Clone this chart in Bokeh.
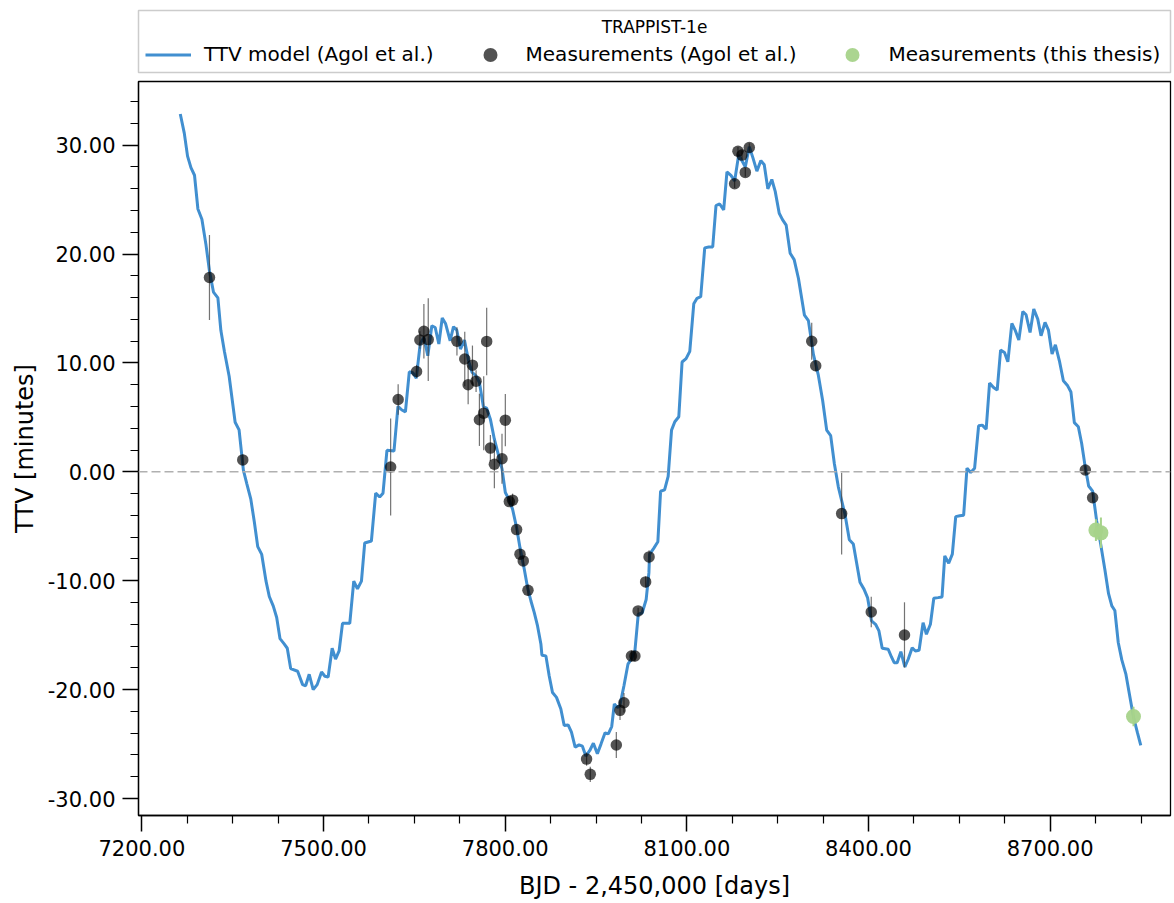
import numpy as np
from bokeh.plotting import figure
from bokeh.layouts import column
from bokeh.models import (Range1d, FixedTicker, NumeralTickFormatter, Span,
                          Legend, LegendItem, Label)
from bokeh.embed import file_html
from bokeh.resources import INLINE

# ---------------- data ----------------
model_bjd = [7263.4, 7270.0, 7275.4, 7281.0, 7286.9, 7292.5, 7299.1, 7305.7, 7311.6, 7318.2,
             7325.5, 7330.4, 7336.3, 7344.1, 7354.0, 7360.5, 7367.6, 7373.2, 7379.8, 7385.7,
             7391.3, 7397.9, 7405.0, 7410.4, 7417.0, 7422.6, 7428.1, 7434.6, 7440.1, 7445.7,
             7457.2, 7465.4, 7470.4, 7476.3, 7482.9, 7489.5, 7496.7, 7502.2, 7507.6, 7514.2,
             7519.8, 7525.7, 7531.3, 7543.3, 7549.9, 7556.0, 7562.6, 7568.0, 7579.0, 7586.1,
             7592.7, 7598.2, 7604.7, 7616.3, 7622.9, 7629.4, 7635.2, 7641.6, 7647.5, 7653.1,
             7659.7, 7665.7, 7672.2, 7678.8, 7684.4, 7690.4, 7696.0, 7701.4, 7709.1, 7714.6,
             7720.0, 7726.1, 7732.7, 7739.8, 7745.4, 7751.9, 7757.4, 7764.0, 7769.4, 7775.5,
             7782.1, 7789.2, 7794.8, 7800.2, 7806.8, 7812.2, 7818.8, 7824.4, 7831.5, 7836.9,
             7842.5, 7848.0, 7853.4, 7859.0, 7860.6, 7867.2, 7872.6, 7878.1, 7884.7, 7891.9,
             7897.4, 7903.9, 7909.4, 7915.5, 7922.0, 7927.5, 7933.1, 7939.7, 7945.6, 7952.2,
             7958.3, 7964.9, 7970.3, 7975.9, 7980.2, 7985.1, 7989.1, 7996.1, 8002.7, 8008.2,
             8014.2, 8019.7, 8026.3, 8032.8, 8037.3, 8038.4, 8045.5, 8052.1, 8056.6, 8063.2,
             8069.1, 8074.7, 8080.1, 8086.7, 8092.1, 8098.7, 8104.8, 8111.4, 8116.8, 8122.9,
             8129.5, 8136.1, 8142.7, 8148.1, 8154.2, 8160.8, 8166.2, 8172.8, 8178.9, 8185.5,
             8190.9, 8196.5, 8203.1, 8209.0, 8215.6, 8222.2, 8227.8, 8233.7, 8240.3, 8245.9,
             8252.5, 8257.9, 8264.0, 8270.6, 8277.2, 8284.3, 8294.2, 8300.7, 8309.0, 8317.2,
             8324.3, 8330.9, 8337.5, 8343.6, 8350.2, 8361.2, 8368.3, 8374.9, 8380.3, 8385.9,
             8392.5, 8398.4, 8405.0, 8411.6, 8417.2, 8422.6, 8432.5, 8437.9, 8442.4, 8447.3,
             8453.4, 8460.0, 8465.5, 8472.1, 8477.4, 8483.5, 8490.1, 8495.6, 8502.2, 8507.8,
             8514.8, 8521.4, 8525.9, 8532.4, 8538.4, 8544.0, 8550.6, 8557.1, 8562.6, 8568.7,
             8575.2, 8581.8, 8587.8, 8594.3, 8599.9, 8606.5, 8612.5, 8618.1, 8624.6, 8630.1,
             8636.7, 8642.1, 8648.2, 8654.8, 8660.2, 8666.8, 8672.9, 8679.5, 8684.9, 8691.5,
             8697.1, 8703.1, 8708.6, 8715.2, 8721.8, 8728.9, 8734.3, 8739.9, 8746.5, 8752.0,
             8757.4, 8763.5, 8770.1, 8776.7, 8783.7, 8790.3, 8796.4, 8801.8, 8806.8, 8812.4,
             8818.3, 8824.9, 8830.5, 8837.6, 8844.2, 8849.6]
model_ttv = [32.87, 31.11, 29.0, 27.94, 27.24, 24.14, 23.2, 20.91, 18.45, 16.51,
             15.98, 13.0, 11.06, 8.78, 4.55, 3.85, 0.16, -1.08, -2.48, -4.6,
             -6.87, -7.58, -10.04, -11.45, -12.33, -13.38, -15.32, -15.78, -16.2, -18.07,
             -18.31, -19.54, -19.65, -18.59, -20.0, -19.54, -18.38, -18.77, -18.84, -16.2,
             -17.19, -16.45, -13.91, -13.91, -10.04, -10.75, -10.04, -6.53, -6.35, -1.96,
             -2.31, -1.96, 1.98, 1.91, 6.01, 5.68, 5.51, 9.19, 9.1, 8.59,
             11.79, 12.34, 10.66, 13.42, 13.26, 11.74, 14.13, 13.63, 12.04, 13.33,
             13.02, 11.28, 12.1, 10.11, 9.13, 8.82, 8.21, 5.97, 5.85, 4.84,
             3.0, 1.47, 0.25, -1.9, -2.6, -3.43, -5.12, -6.96, -8.94, -10.63,
             -11.86, -12.93, -14.15, -15.84, -16.84, -16.9, -18.73, -20.26, -20.71, -21.78,
             -23.3, -23.24, -23.91, -25.28, -25.07, -25.19, -26.1, -25.59, -24.92, -25.89,
             -24.98, -23.97, -24.06, -23.39, -21.32, -21.63, -21.53, -19.64, -17.66, -17.2,
             -16.44, -13.09, -12.94, -11.72, -9.28, -7.58, -7.0, -6.42, -1.78, -1.66,
             -0.42, 3.83, 4.6, 5.06, 10.09, 10.4, 11.07, 15.43, 15.94, 16.09,
             20.57, 20.65, 20.65, 24.45, 24.6, 24.06, 27.54, 27.23, 26.72, 29.09,
             28.58, 28.0, 29.86, 28.86, 27.62, 28.58, 28.2, 25.99, 26.85, 25.76,
             23.75, 23.17, 22.66, 20.07, 19.49, 17.76, 14.39, 13.89, 10.79, 8.86,
             6.53, 3.83, 3.33, 0.74, -1.4, -3.91, -6.23, -6.62, -8.35, -10.14,
             -10.77, -11.55, -13.69, -14.0, -14.61, -16.2, -16.29, -17.0, -17.53, -17.53,
             -16.51, -17.92, -17.21, -16.15, -16.45, -16.39, -13.85, -14.92, -14.0, -11.61,
             -11.55, -11.49, -7.72, -8.39, -7.56, -4.11, -4.04, -3.98, 0.34, -0.06,
             0.34, 4.23, 4.29, 3.92, 8.15, 7.75, 7.51, 11.18, 10.96, 10.11,
             13.63, 13.02, 12.1, 14.73, 14.43, 12.8, 14.95, 14.03, 12.5, 13.72,
             13.02, 10.82, 11.67, 10.2, 8.36, 7.9, 7.33, 4.52, 4.14, 2.6,
             0.62, -1.3, -1.77, -4.48, -6.73, -8.96, -11.19, -12.31, -12.73, -15.67,
             -17.27, -18.55, -20.3, -22.53, -23.98, -25.11]

agol_bjd = [7311.6, 7366.6, 7610.8, 7623.2, 7653.6, 7659.1, 7665.7, 7672.9, 7720.3, 7733.2,
            7738.8, 7745.9, 7751.9, 7757.4, 7764.5, 7769.4, 7775.5, 7782.1, 7794.7, 7800.2,
            7806.8, 7812.2, 7818.8, 7824.4, 7829.8, 7837.6, 7934.4, 7940.5, 7983.5, 7989.6,
            7996.1, 8008.5, 8014.2, 8019.5, 8031.9, 8037.6, 8178.9, 8184.4, 8191.0, 8196.5,
            8203.1, 8306.2, 8312.8, 8355.6, 8404.5, 8459.4, 8758.0, 8770.1]
agol_ttv = [17.85, 1.1, 0.45, 6.64, 9.22, 12.11, 12.91, 12.15, 11.99, 10.36,
            8.0, 9.8, 8.33, 4.78, 5.39, 11.98, 2.18, 0.7, 1.2, 4.75,
            -2.73, -2.6, -5.3, -7.56, -8.18, -10.87, -26.38, -27.78, -25.09, -21.9,
            -21.21, -16.91, -16.91, -12.77, -10.11, -7.81, 26.46, 29.44, 29.09, 27.5,
            29.79, 11.99, 9.74, -3.83, -12.87, -14.98, 0.17, -2.38]
agol_err = [3.9, 0.5, 4.45, 1.4, 0.6, 0.8, 2.5, 3.8, 1.3, 2.5,
            1.8, 1.8, 1.0, 2.4, 3.4, 3.1, 1.2, 2.2, 2.3, 2.4,
            0.4, 0.6, 0.4, 0.4, 0.4, 0.5, 0.6, 0.7, 1.2, 0.9,
            0.9, 0.5, 0.5, 0.3, 0.5, 0.6, 0.4, 0.4, 0.4, 0.4,
            0.4, 1.7, 0.5, 3.75, 1.4, 3.0, 0.4, 0.4]

thesis_bjd = [8775.5, 8783.8, 8837.6]
thesis_ttv = [-5.35, -5.6, -22.47]
thesis_err = [1.0, 1.4, 0.9]

x_major_ticks = [7200, 7500, 7800, 8100, 8400, 8700]
x_minor_ticks = [7275, 7350, 7425, 7575, 7650, 7725, 7875, 7950, 8025,
                 8175, 8250, 8325, 8475, 8550, 8625, 8775, 8850]
y_major_ticks = [-30, -20, -10, 0, 10, 20, 30]
y_minor_ticks = [-28, -26, -24, -22, -18, -16, -14, -12, -8, -6, -4, -2,
                 2, 4, 6, 8, 12, 14, 16, 18, 22, 24, 26, 28, 32, 34]

legend_title = "TRAPPIST-1e"
label_model = "TTV model (Agol et al.)"
label_agol = "Measurements (Agol et al.)"
label_thesis = "Measurements (this thesis)"

FONT = "DejaVu Sans"
LINE_BLUE = "#418fd0"
AGOL_GREY = "black"
BAR_GREY = "#444444"
THESIS_GREEN = "#a6d38a"

# ---------------- main figure ----------------
p = figure(width=1174, height=823,
           x_range=Range1d(7194.4, 8898.7), y_range=Range1d(-31.56, 35.85),
           output_backend="svg", toolbar_location=None,
           min_border_left=138, min_border_right=1,
           min_border_top=1, min_border_bottom=88)
p.xgrid.visible = False
p.ygrid.visible = False
p.outline_line_color = "black"
p.outline_line_width = 1.3
p.outline_line_alpha = 1.0
p.background_fill_color = "white"
p.border_fill_color = "white"

p.xaxis.ticker = FixedTicker(ticks=x_major_ticks, minor_ticks=x_minor_ticks)
p.yaxis.ticker = FixedTicker(ticks=y_major_ticks, minor_ticks=y_minor_ticks)
p.xaxis.formatter = NumeralTickFormatter(format="0.00")
p.yaxis.formatter = NumeralTickFormatter(format="0.00")
p.xaxis.axis_label = "BJD - 2,450,000 [days]"
p.yaxis.axis_label = "TTV [minutes]"

for ax in (p.xaxis, p.yaxis):
    ax.axis_line_color = "black"
    ax.axis_line_width = 1.3
    ax.major_tick_in = 0
    ax.major_tick_out = 16
    ax.minor_tick_in = 0
    ax.minor_tick_out = 8
    ax.major_tick_line_width = 1.5
    ax.minor_tick_line_width = 1.2
    ax.major_tick_line_color = "black"
    ax.minor_tick_line_color = "black"
    ax.major_label_text_font = FONT
    ax.major_label_text_font_size = "21px"
    ax.major_label_text_color = "black"
    ax.axis_label_text_font = FONT
    ax.axis_label_text_font_size = "24px"
    ax.axis_label_text_font_style = "normal"
    ax.axis_label_text_color = "black"
p.xaxis.major_label_standoff = 8
p.yaxis.major_label_standoff = 7
p.xaxis.axis_label_standoff = 13
p.yaxis.axis_label_standoff = 6

# zero line
p.add_layout(Span(location=0, dimension="width", line_color="#b0b0b0",
                  line_dash="9 4", line_width=1.5))

# TTV model
p.line(model_bjd, model_ttv, line_color=LINE_BLUE, line_width=3)

# Agol measurements
agol_lo = [v - e for v, e in zip(agol_ttv, agol_err)]
agol_hi = [v + e for v, e in zip(agol_ttv, agol_err)]
p.segment(x0=agol_bjd, y0=agol_lo, x1=agol_bjd, y1=agol_hi,
          line_color=BAR_GREY, line_alpha=0.75, line_width=1.2)
p.scatter(agol_bjd, agol_ttv, size=11.5, fill_color=AGOL_GREY,
          fill_alpha=0.68, line_color=None)

# this thesis
th_lo = [v - e for v, e in zip(thesis_ttv, thesis_err)]
th_hi = [v + e for v, e in zip(thesis_ttv, thesis_err)]
p.segment(x0=thesis_bjd, y0=th_lo, x1=thesis_bjd, y1=th_hi,
          line_color=THESIS_GREEN, line_width=2)
p.scatter(thesis_bjd, thesis_ttv, size=15, fill_color=THESIS_GREEN,
          fill_alpha=0.95, line_color=None)

# ---------------- legend strip (its frame is the legend box) ----------------
top = figure(width=1174, height=80, x_range=Range1d(0, 1), y_range=Range1d(0, 1),
             output_backend="svg", toolbar_location=None,
             x_axis_location=None, y_axis_location=None,
             min_border_left=138, min_border_right=4,
             min_border_top=10, min_border_bottom=8)
top.xgrid.visible = False
top.ygrid.visible = False
top.outline_line_color = "#cccccc"
top.outline_line_width = 1.5
top.background_fill_color = "white"
top.border_fill_color = "white"

nan1 = np.array([np.nan])
leg_line = top.line(x=nan1, y=nan1, line_color=LINE_BLUE, line_width=3)
leg_agol_bar = top.scatter(x=nan1, y=nan1, marker="line", size=14,
                           line_color=BAR_GREY, line_alpha=0.75, line_width=1.2)
leg_agol = top.scatter(x=nan1, y=nan1, size=14, fill_color=AGOL_GREY,
                       fill_alpha=0.68, line_color=None)
leg_th_bar = top.scatter(x=nan1, y=nan1, marker="line", size=14,
                         line_color=THESIS_GREEN, line_width=2)
leg_th = top.scatter(x=nan1, y=nan1, size=14, fill_color=THESIS_GREEN,
                     fill_alpha=0.95, line_color=None)

legend = Legend(items=[
    LegendItem(label=label_model, renderers=[leg_line]),
    LegendItem(label=label_agol, renderers=[leg_agol_bar, leg_agol]),
    LegendItem(label=label_thesis, renderers=[leg_th_bar, leg_th]),
], orientation="horizontal", location=(7, 0.5))
legend.label_text_font = FONT
legend.label_text_font_size = "20px"
legend.label_text_color = "black"
legend.glyph_width = 46
legend.glyph_height = 35
legend.label_standoff = 13
legend.spacing = 33
legend.padding = 0
legend.margin = 0
legend.border_line_alpha = 0
legend.background_fill_alpha = 0
top.add_layout(legend)

top.add_layout(Label(x=516, y=46, x_units="screen", y_units="screen",
                     text=legend_title, text_align="center", text_baseline="middle",
                     text_font=FONT, text_font_size="17px", text_color="black"))

layout = column(top, p, spacing=0)
open("out.html", "w").write(file_html(layout, INLINE))
